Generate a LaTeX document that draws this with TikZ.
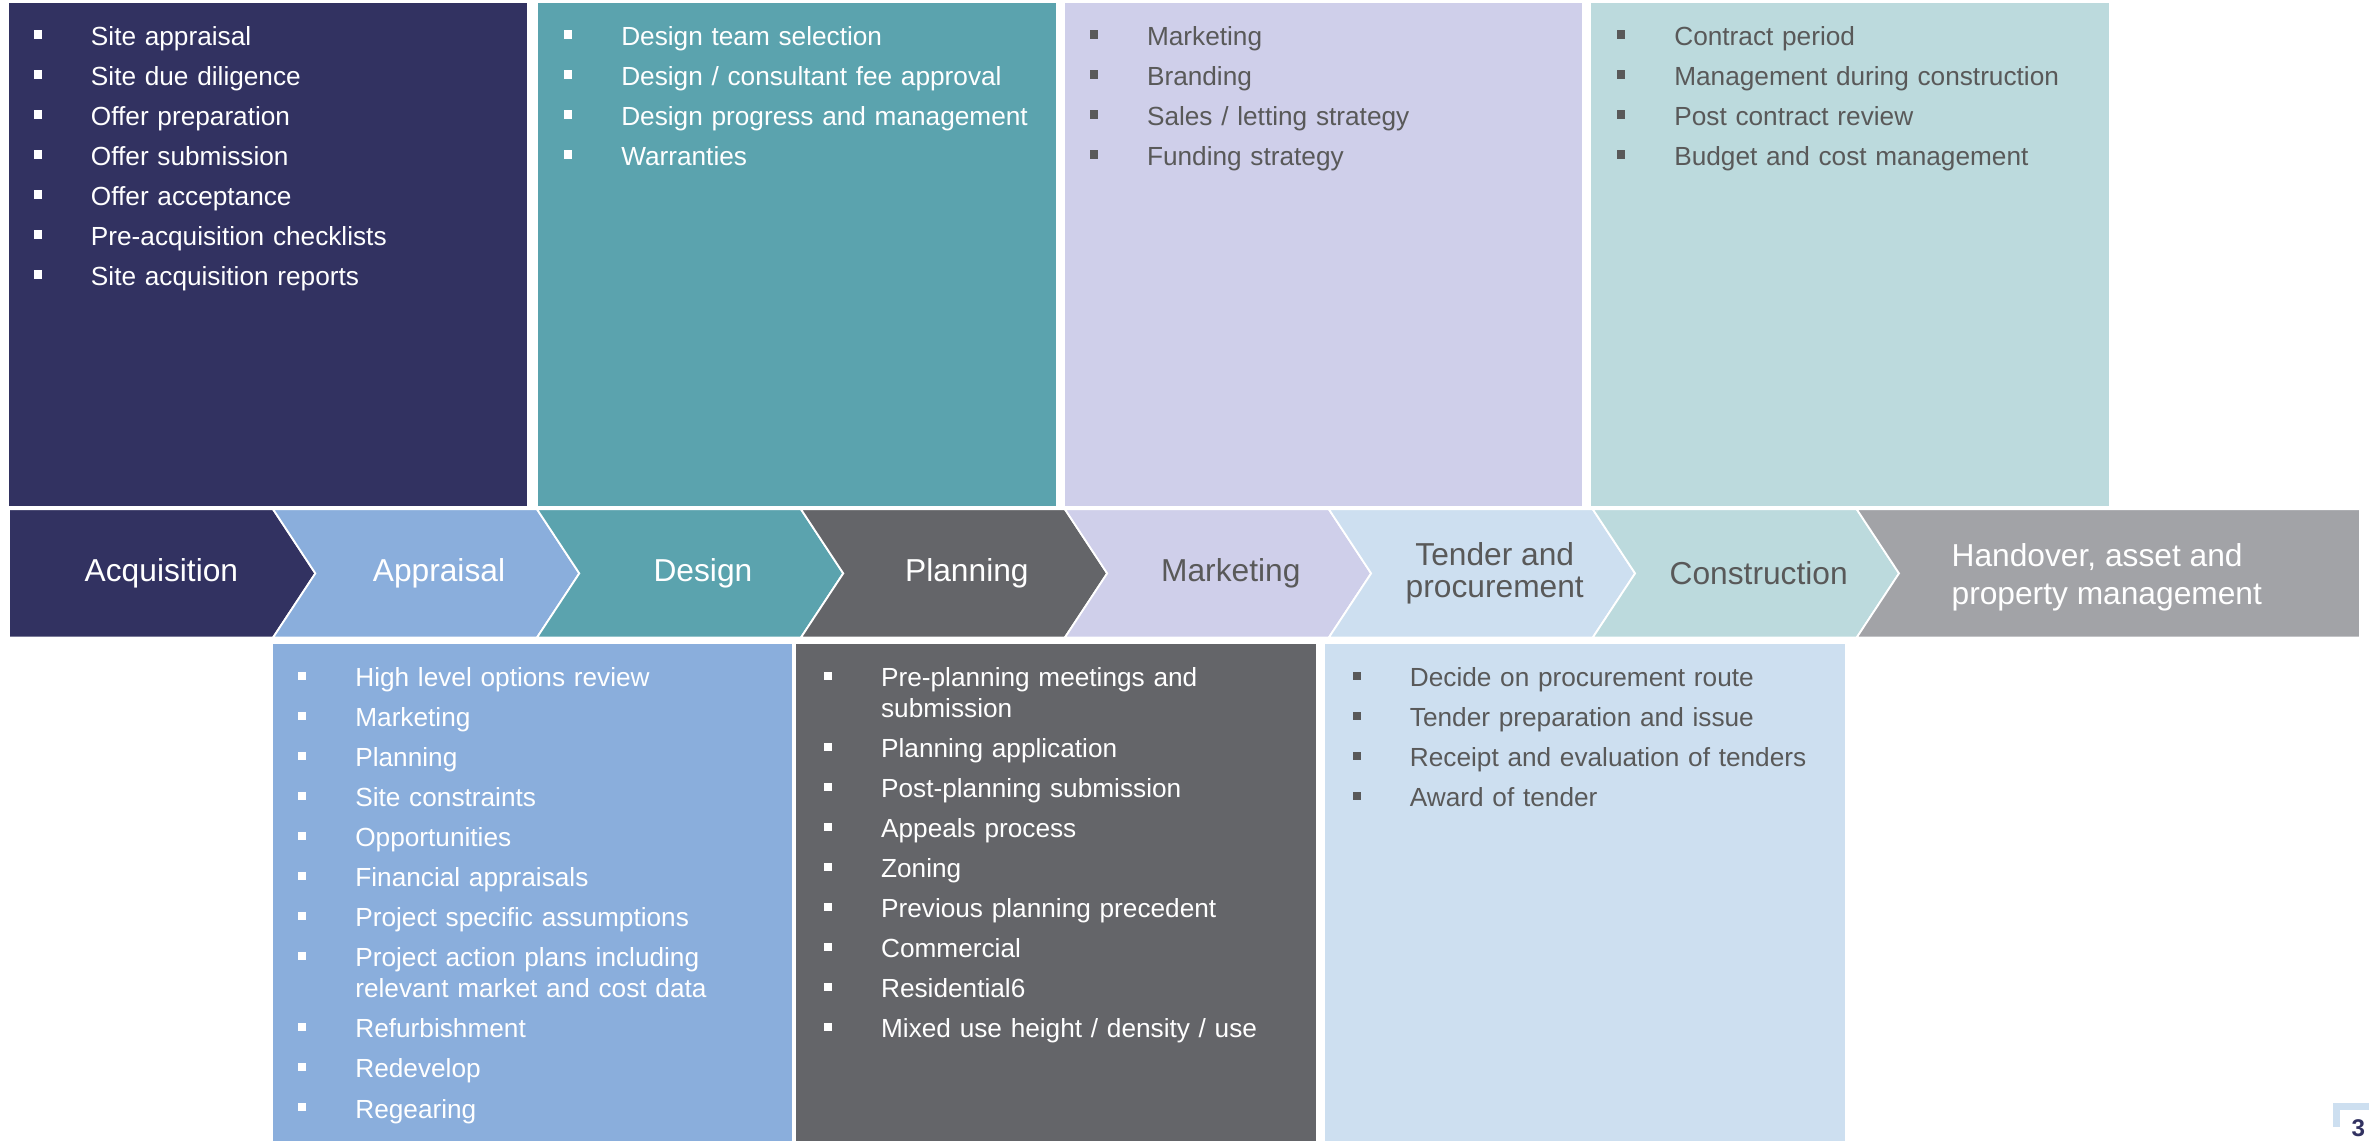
\documentclass[tikz,border=0pt]{standalone}
\usepackage{fontspec}
\setmainfont{Liberation Sans}
\usetikzlibrary{positioning, shapes.symbols}

\definecolor{navy}{RGB}{50,50,97}
\definecolor{cornflower}{RGB}{138,174,220}
\definecolor{designteal}{RGB}{91,163,174}
\definecolor{slate}{RGB}{100,101,105}
\definecolor{lavender}{RGB}{207,207,234}
\definecolor{paleblue}{RGB}{205,223,240}
\definecolor{paleteal}{RGB}{188,218,221}
\definecolor{midgrey}{RGB}{162,163,167}
\definecolor{textgrey}{RGB}{89,89,89}

% one bullet line, square marker and hanging indent
\newcommand{\itm}[1]{\hangindent=38pt\hangafter=1\makebox[38pt][l]{\rule[4.5pt]{5.5pt}{5.5pt}}#1\par}

\begin{document}
\begin{tikzpicture}[x=1pt, y=-1pt,
    panel/.style={anchor=north west, inner sep=0pt, outer sep=0pt, minimum width=343pt},
    bullets/.style={anchor=base west, inner sep=0pt, text width=330pt,
      font=\fontsize{17.35}{20.5}\selectfont,
      execute at begin node={\setlength{\parskip}{6pt}}},
    stage/.style={signal, signal pointer angle=113.2, minimum width=202.7pt,
      minimum height=85pt, inner sep=0pt, draw=white, line width=1.2pt,
      font=\fontsize{21}{20.8}\selectfont, align=center},
    notched/.style={stage, signal from=west}
  ]
  \useasboundingbox (0,0) rectangle (1568,755);

  % upper panels
  \node[panel, fill=navy, minimum height=333pt] (acqbox) at (6,2) {};
  \node[panel, fill=designteal, minimum height=333pt] (desbox) at (356,2) {};
  \node[panel, fill=lavender, minimum height=333pt, minimum width=342pt] (mktbox) at (705,2) {};
  \node[panel, fill=paleteal, minimum height=333pt] (conbox) at (1053,2) {};

  % lower panels
  \node[panel, fill=cornflower, minimum height=329pt] (aprbox) at (181,426) {};
  \node[panel, fill=slate, minimum height=329pt, minimum width=344pt] (plnbox) at (527,426) {};
  \node[panel, fill=paleblue, minimum height=329pt, minimum width=344pt] (tndbox) at (877,426) {};

  \node[bullets, text=white] (acqlist) at ([xshift=16pt, yshift=-28pt]acqbox.north west) {%
    \itm{Site appraisal}
    \itm{Site due diligence}
    \itm{Offer preparation}
    \itm{Offer submission}
    \itm{Offer acceptance}
    \itm{Pre-acquisition checklists}
    \itm{Site acquisition reports}};
  \node[bullets, text=white] (deslist) at ([xshift=17pt, yshift=-28pt]desbox.north west) {%
    \itm{Design team selection}
    \itm{Design / consultant fee approval}
    \itm{Design progress and management}
    \itm{Warranties}};
  \node[bullets, text=textgrey] (mktlist) at ([xshift=16pt, yshift=-28pt]mktbox.north west) {%
    \itm{Marketing}
    \itm{Branding}
    \itm{Sales / letting strategy}
    \itm{Funding strategy}};
  \node[bullets, text=textgrey] (conlist) at ([xshift=17pt, yshift=-28pt]conbox.north west) {%
    \itm{Contract period}
    \itm{Management during construction}
    \itm{Post contract review}
    \itm{Budget and cost management}};

  \node[bullets, text=white] (aprlist) at ([xshift=16pt, yshift=-28.5pt]aprbox.north west) {%
    \itm{High level options review}
    \itm{Marketing}
    \itm{Planning}
    \itm{Site constraints}
    \itm{Opportunities}
    \itm{Financial appraisals}
    \itm{Project specific assumptions}
    \itm{Project action plans including\newline relevant market and cost data}
    \itm{Refurbishment}
    \itm{Redevelop}
    \itm{Regearing}};
  \node[bullets, text=white] (plnlist) at ([xshift=18pt, yshift=-28.5pt]plnbox.north west) {%
    \itm{Pre-planning meetings and\newline submission}
    \itm{Planning application}
    \itm{Post-planning submission}
    \itm{Appeals process}
    \itm{Zoning}
    \itm{Previous planning precedent}
    \itm{Commercial}
    \itm{Residential6}
    \itm{Mixed use height / density / use}};
  \node[bullets, text=textgrey] (tndlist) at ([xshift=18pt, yshift=-28.5pt]tndbox.north west) {%
    \itm{Decide on procurement route}
    \itm{Tender preparation and issue}
    \itm{Receipt and evaluation of tenders}
    \itm{Award of tender}};

  % process chevrons
  \node[stage, fill=navy, text=white] (acq) at (93.35,379.5) {\hspace*{27pt}Acquisition};
  \node[notched, fill=cornflower, text=white] (apr) at (282.05,379.5) {\hspace*{17pt}Appraisal};
  \node[notched, fill=designteal, text=white] (des) at (456.75,379.5) {\hspace*{17pt}Design};
  \node[notched, fill=slate, text=white] (pln) at (631.45,379.5) {\hspace*{17pt}Planning};
  \node[notched, fill=lavender, text=textgrey] (mkt) at (806.15,379.5) {\hspace*{17pt}Marketing};
  \node[notched, fill=paleblue, text=textgrey] (tnd) at (980.85,379.5) {\hspace*{17pt}Tender and\\\hspace*{17pt}procurement};
  \node[notched, fill=paleteal, text=textgrey] (con) at (1155.55,379.5) {\hspace*{17pt}Construction};
  \node[notched, signal to=nowhere, fill=midgrey, text=white, minimum width=333.1pt,
    font=\fontsize{21}{25}\selectfont] (hnd) at (1409.45,379.5)
    {\raisebox{-3pt}[\height][\depth]{\begin{tabular}{@{}l@{}}Handover, asset and\\property management\end{tabular}}\hspace*{30pt}};

  % page number
  \draw[paleblue, line width=4.5pt] (1546.5,746) -- (1546.5,732.5) -- (1568,732.5);
  \node[anchor=base east, inner sep=0pt, text=navy, font=\bfseries\fontsize{16}{16}\selectfont] (pagenum) at (1565.5,752) {3};
\end{tikzpicture}
\end{document}
